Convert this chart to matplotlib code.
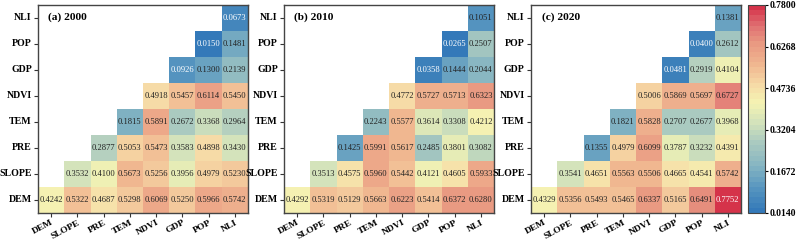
import numpy as np
import matplotlib
matplotlib.use("Agg")
import matplotlib.pyplot as plt
import seaborn as sns
from matplotlib.colors import LinearSegmentedColormap, Normalize
from matplotlib.cm import ScalarMappable

plt.rcParams['font.family'] = ['Liberation Serif', 'DejaVu Serif']

factors = ['DEM', 'SLOPE', 'PRE', 'TEM', 'NDVI', 'GDP', 'POP', 'NLI']
rows_top_down = ['NLI', 'POP', 'GDP', 'NDVI', 'TEM', 'PRE', 'SLOPE', 'DEM']

# triangle values, each row from the diagonal to NLI (rows listed top to bottom)
q2000 = [
    [0.0673],
    [0.0150, 0.1481],
    [0.0926, 0.1300, 0.2139],
    [0.4918, 0.5457, 0.6114, 0.5450],
    [0.1815, 0.5891, 0.2672, 0.3368, 0.2964],
    [0.2877, 0.5053, 0.5473, 0.3583, 0.4898, 0.3430],
    [0.3532, 0.4100, 0.5673, 0.5256, 0.3956, 0.4979, 0.5230],
    [0.4242, 0.5322, 0.4687, 0.5298, 0.6069, 0.5250, 0.5966, 0.5742],
]
q2010 = [
    [0.1051],
    [0.0265, 0.2507],
    [0.0358, 0.1444, 0.2044],
    [0.4772, 0.5727, 0.5713, 0.6323],
    [0.2243, 0.5577, 0.3614, 0.3308, 0.4212],
    [0.1425, 0.5991, 0.5617, 0.2485, 0.3801, 0.3082],
    [0.3513, 0.4575, 0.5960, 0.5442, 0.4121, 0.4605, 0.5933],
    [0.4292, 0.5319, 0.5129, 0.5663, 0.6223, 0.5414, 0.6372, 0.6280],
]
q2020 = [
    [0.1381],
    [0.0400, 0.2612],
    [0.0481, 0.2919, 0.4104],
    [0.5006, 0.5869, 0.5697, 0.6727],
    [0.1821, 0.5828, 0.2707, 0.2677, 0.3968],
    [0.1355, 0.4979, 0.6099, 0.3787, 0.3232, 0.4391],
    [0.3541, 0.4651, 0.5563, 0.5506, 0.4665, 0.4541, 0.5742],
    [0.4329, 0.5356, 0.5493, 0.5465, 0.6337, 0.5165, 0.6491, 0.7752],
]
titles = ['(a) 2000', '(b) 2010', '(c) 2020']
vmin, vmax = 0.0140, 0.7800


def to_matrix(tri):
    n = len(factors)
    m = np.full((n, n), np.nan)
    for i, row in enumerate(tri):
        m[i, n - len(row):] = row
    return m


cmap = LinearSegmentedColormap.from_list('q', [
    (0.00, '#3479b9'),
    (0.12, '#5a98c0'),
    (0.22, '#86b5c2'),
    (0.33, '#a9c9c0'),
    (0.43, '#d2e2bb'),
    (0.53, '#f5f3b3'),
    (0.62, '#f6daa6'),
    (0.72, '#f0b690'),
    (0.82, '#e99a82'),
    (0.91, '#e07072'),
    (1.00, '#d5334a'),
], N=40)

fig = plt.figure(figsize=(7.96, 2.41), dpi=100)
W, H = 796, 241
lefts = [38, 284, 531]
for k, (tri, title) in enumerate(zip([q2000, q2010, q2020], titles)):
    ax = fig.add_axes([lefts[k] / W, 1 - 213 / H, 210 / W, 208 / H])
    m = to_matrix(tri)
    sns.heatmap(m, ax=ax, cmap=cmap, vmin=vmin, vmax=vmax, cbar=False,
                annot=True, fmt='.4f', annot_kws={'fontsize': 6.1},
                xticklabels=factors, yticklabels=rows_top_down)
    for t in ax.texts:
        v = float(t.get_text())
        t.set_color('white' if (v < 0.1 or v > 0.7) else '#222222')
    for s in ax.spines.values():
        s.set_visible(True)
        s.set_color('#444444')
        s.set_linewidth(1.0)
    ax.tick_params(axis='both', length=3, width=0.8, color='#333333',
                   labelsize=7.1, pad=1.5)
    ax.tick_params(axis='x', labelsize=6.8, pad=1)
    ax.set_yticklabels(rows_top_down, rotation=0, fontweight='bold')
    ax.set_xticklabels(factors, rotation=28, ha='right', rotation_mode='anchor',
                       fontweight='bold')
    ax.text(0.05, 0.94, title, transform=ax.transAxes, fontsize=8.2,
            fontweight='bold', va='center', ha='left')

cax = fig.add_axes([748 / W, 1 - 213 / H, 17 / W, 208 / H])
sm = ScalarMappable(norm=Normalize(vmin, vmax), cmap=cmap)
cb = fig.colorbar(sm, cax=cax)
ticks = np.linspace(vmin, vmax, 6)
cb.set_ticks(ticks)
cb.set_ticklabels(['%.4f' % t for t in ticks])
cb.outline.set_edgecolor('#444444')
cb.outline.set_linewidth(0.8)
cax.tick_params(length=2.5, width=0.8, labelsize=6.9, pad=1)
for lab in cax.get_yticklabels():
    lab.set_fontweight('bold')

fig.savefig('out.png', dpi=100)
